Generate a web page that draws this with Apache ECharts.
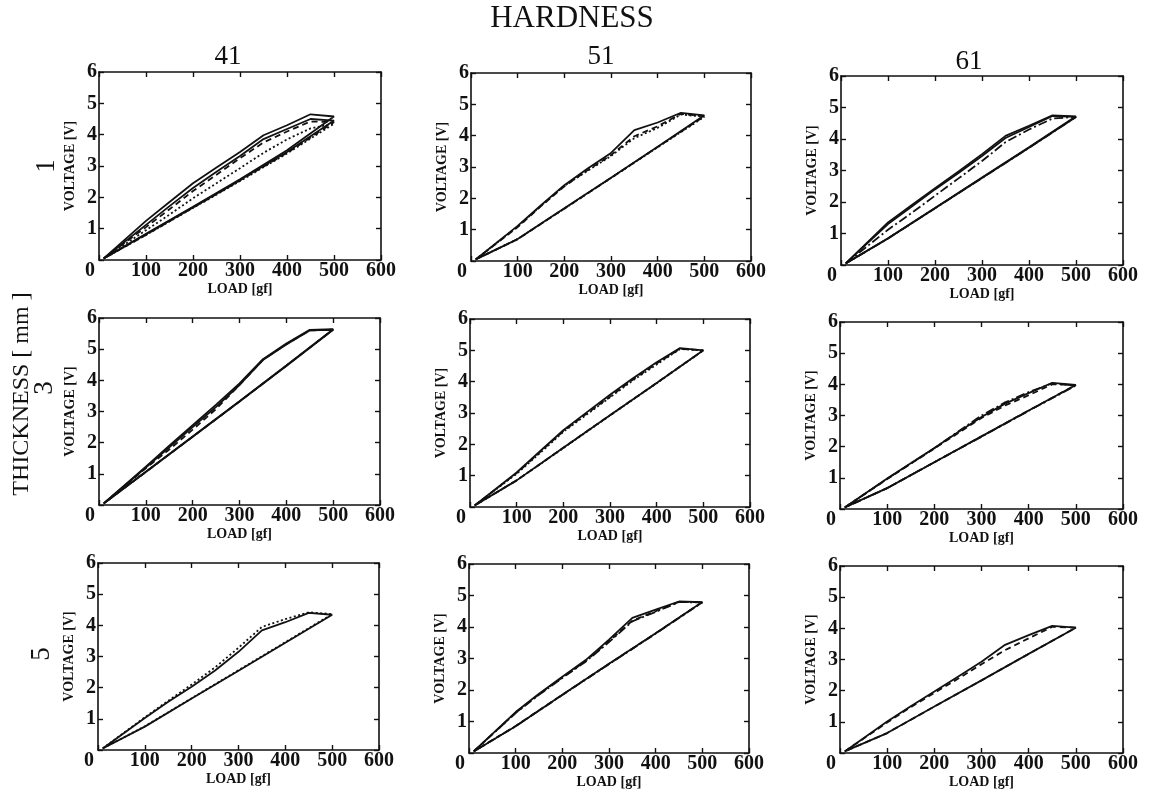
<!DOCTYPE html>
<html><head><meta charset="utf-8">
<script src="https://cdn.jsdelivr.net/npm/echarts@6/dist/echarts.min.js"></script>
<style>html,body{margin:0;padding:0;background:#fff}#c{width:1151px;height:796px}</style>
</head><body><div id="c"></div>
<script>
// ---- data ----
const HARDNESS = ['41', '51', '61'];
const THICKNESS = ['1', '3', '5'];
const X_TICKS = [0, 100, 200, 300, 400, 500, 600];
const Y_TICKS = [0, 1, 2, 3, 4, 5, 6];
// loading path then unloading path (gf)
const LOAD = [10, 100, 150, 200, 250, 300, 350, 400, 450, 500, 400, 300, 200, 100, 10];

// hardness 41, thickness 1
const H41_T1_A = [0.05, 1.25, 1.85, 2.45, 2.95, 3.45, 3.98, 4.30, 4.65, 4.58, 3.50, 2.58, 1.70, 0.84, 0.05];
const H41_T1_B = [0.05, 1.12, 1.72, 2.30, 2.82, 3.32, 3.86, 4.18, 4.50, 4.45, 3.45, 2.55, 1.68, 0.82, 0.05];
const H41_T1_C = [0.05, 1.05, 1.62, 2.20, 2.72, 3.25, 3.75, 4.10, 4.42, 4.40, 3.42, 2.54, 1.67, 0.80, 0.05];
const H41_T1_D = [0.05, 0.95, 1.45, 1.97, 2.45, 2.93, 3.42, 3.85, 4.20, 4.35, 3.40, 2.52, 1.66, 0.80, 0.05];
// hardness 51, thickness 1
const H51_T1_A = [0.05, 1.12, 1.78, 2.42, 2.95, 3.45, 4.18, 4.42, 4.73, 4.65, 3.65, 2.66, 1.68, 0.70, 0.05];
const H51_T1_B = [0.05, 1.08, 1.75, 2.38, 2.90, 3.38, 3.98, 4.30, 4.70, 4.62, 3.64, 2.65, 1.67, 0.70, 0.05];
const H51_T1_C = [0.05, 1.10, 1.76, 2.40, 2.88, 3.35, 3.92, 4.25, 4.68, 4.60, 3.63, 2.65, 1.67, 0.70, 0.05];
// hardness 61, thickness 1
const H61_T1_A = [0.05, 1.35, 1.90, 2.44, 2.97, 3.52, 4.10, 4.42, 4.75, 4.72, 3.74, 2.78, 1.81, 0.85, 0.05];
const H61_T1_B = [0.05, 1.30, 1.85, 2.40, 2.92, 3.46, 4.03, 4.38, 4.73, 4.70, 3.72, 2.76, 1.80, 0.84, 0.05];
const H61_T1_C = [0.05, 1.12, 1.65, 2.20, 2.75, 3.30, 3.90, 4.30, 4.65, 4.70, 3.72, 2.76, 1.80, 0.84, 0.05];
// hardness 41, thickness 3
const H41_T3_A = [0.05, 1.23, 1.90, 2.56, 3.22, 3.90, 4.68, 5.18, 5.62, 5.64, 4.48, 3.33, 2.20, 1.07, 0.05];
const H41_T3_B = [0.05, 1.20, 1.85, 2.50, 3.15, 3.85, 4.65, 5.15, 5.60, 5.62, 4.46, 3.32, 2.19, 1.06, 0.05];
const H41_T3_C = [0.05, 1.18, 1.78, 2.42, 3.08, 3.85, 4.66, 5.16, 5.60, 5.63, 4.47, 3.32, 2.19, 1.06, 0.05];
// hardness 51, thickness 3
const H51_T3_A = [0.05, 1.10, 1.78, 2.45, 3.02, 3.58, 4.12, 4.62, 5.07, 5.00, 3.96, 2.93, 1.89, 0.85, 0.05];
const H51_T3_B = [0.05, 1.08, 1.75, 2.42, 2.98, 3.52, 4.08, 4.58, 5.05, 5.00, 3.96, 2.93, 1.89, 0.85, 0.05];
const H51_T3_C = [0.05, 1.06, 1.72, 2.40, 2.95, 3.50, 4.05, 4.55, 5.04, 5.00, 3.95, 2.92, 1.88, 0.85, 0.05];
// hardness 61, thickness 3
const H61_T3_A = [0.05, 0.98, 1.47, 1.96, 2.46, 2.95, 3.38, 3.72, 4.05, 3.98, 3.16, 2.33, 1.50, 0.67, 0.05];
const H61_T3_B = [0.05, 0.96, 1.45, 1.94, 2.43, 2.92, 3.32, 3.65, 4.00, 3.98, 3.16, 2.33, 1.50, 0.67, 0.05];
const H61_T3_C = [0.05, 0.97, 1.46, 1.95, 2.48, 3.00, 3.42, 3.75, 4.03, 3.96, 3.15, 2.32, 1.50, 0.67, 0.05];
// hardness 41, thickness 5
const H41_T5_A = [0.05, 1.03, 1.55, 2.03, 2.55, 3.15, 3.84, 4.10, 4.40, 4.34, 3.44, 2.54, 1.65, 0.75, 0.05];
const H41_T5_B = [0.05, 1.05, 1.58, 2.10, 2.65, 3.28, 3.95, 4.20, 4.42, 4.36, 3.46, 2.56, 1.66, 0.76, 0.05];
// hardness 51, thickness 5
const H51_T5_A = [0.05, 1.30, 1.88, 2.42, 2.95, 3.60, 4.29, 4.55, 4.81, 4.79, 3.80, 2.83, 1.85, 0.85, 0.05];
const H51_T5_B = [0.05, 1.28, 1.86, 2.40, 2.92, 3.55, 4.20, 4.50, 4.80, 4.79, 3.80, 2.83, 1.85, 0.86, 0.05];
const H51_T5_C = [0.05, 1.27, 1.85, 2.38, 2.90, 3.52, 4.18, 4.48, 4.79, 4.78, 3.79, 2.82, 1.84, 0.85, 0.05];
// hardness 61, thickness 5
const H61_T5_A = [0.05, 1.01, 1.50, 1.97, 2.45, 2.93, 3.47, 3.78, 4.08, 4.02, 3.18, 2.33, 1.49, 0.64, 0.05];
const H61_T5_B = [0.05, 0.98, 1.47, 1.93, 2.38, 2.85, 3.30, 3.68, 4.05, 4.02, 3.18, 2.33, 1.49, 0.64, 0.05];

// ---- layout / styles ----
const SERIF = "'Liberation Serif','DejaVu Serif','Times New Roman',serif";
const INK = '#111';
const DASH = [6, 4], DOT = [2, 2.5], DASHDOT = [9, 3, 2, 3];

const panels = [
  {g: {left: 99, top: 72, width: 282, height: 188}, s: [[H41_T1_A, 'solid'], [H41_T1_B, 'solid'], [H41_T1_C, DASH], [H41_T1_D, DOT]]},
  {g: {left: 471, top: 73, width: 280, height: 188}, s: [[H51_T1_A, 'solid'], [H51_T1_B, DASH], [H51_T1_C, DOT]]},
  {g: {left: 841, top: 76, width: 282, height: 189}, s: [[H61_T1_A, 'solid'], [H61_T1_B, 'solid'], [H61_T1_C, DASHDOT]]},
  {g: {left: 99, top: 318, width: 281, height: 187}, s: [[H41_T3_A, 'solid'], [H41_T3_B, 'solid'], [H41_T3_C, DASH]]},
  {g: {left: 470, top: 319, width: 280, height: 188}, s: [[H51_T3_A, 'solid'], [H51_T3_B, DASH], [H51_T3_C, DOT]]},
  {g: {left: 840, top: 322, width: 283, height: 187}, s: [[H61_T3_A, 'solid'], [H61_T3_B, DASH], [H61_T3_C, DASHDOT]]},
  {g: {left: 98, top: 563, width: 281, height: 187}, s: [[H41_T5_A, 'solid'], [H41_T5_B, DOT]]},
  {g: {left: 469, top: 564, width: 280, height: 189}, s: [[H51_T5_A, 'solid'], [H51_T5_B, DASH], [H51_T5_C, DASHDOT]]},
  {g: {left: 840, top: 566, width: 283, height: 187}, s: [[H61_T5_A, 'solid'], [H61_T5_B, DASH]]}
];

const grid = [], xAxis = [], yAxis = [], series = [];
const lineAx = {show: true, onZero: false, lineStyle: {color: INK, width: 1.6}};
const tickAx = {show: true, inside: true, length: 5, lineStyle: {color: INK, width: 1.4}};
const tickFont = {fontFamily: SERIF, fontSize: 20, fontWeight: 'bold', color: INK};
panels.forEach((p, i) => {
  grid.push(Object.assign({containLabel: false}, p.g));
  xAxis.push({
    gridIndex: i, type: 'value', position: 'bottom',
    min: X_TICKS[0], max: X_TICKS[X_TICKS.length - 1], interval: X_TICKS[1] - X_TICKS[0],
    axisLine: lineAx, axisTick: tickAx, splitLine: {show: false},
    axisLabel: Object.assign({}, tickFont, {
      margin: 1,
      formatter: v => v === 0 ? '{z|0}' : String(v),
      rich: {z: Object.assign({}, tickFont, {padding: [0, 18, 0, 0]})}
    }),
    name: 'LOAD [gf]', nameLocation: 'middle', nameGap: 15,
    nameTextStyle: {fontFamily: SERIF, fontWeight: 'bold', fontSize: 14, color: INK}
  });
  xAxis.push({
    gridIndex: i, type: 'value', position: 'top',
    min: X_TICKS[0], max: X_TICKS[X_TICKS.length - 1], interval: X_TICKS[1] - X_TICKS[0],
    axisLine: lineAx, axisTick: tickAx, splitLine: {show: false}, axisLabel: {show: false}
  });
  yAxis.push({
    gridIndex: i, type: 'value', position: 'left',
    min: Y_TICKS[0], max: Y_TICKS[Y_TICKS.length - 1], interval: Y_TICKS[1] - Y_TICKS[0],
    axisLine: lineAx, axisTick: tickAx, splitLine: {show: false},
    axisLabel: Object.assign({}, tickFont, {margin: 2, formatter: v => v === 0 ? '' : String(v)}),
    name: 'VOLTAGE [V]', nameLocation: 'middle', nameGap: 22, nameRotate: 90,
    nameTextStyle: {fontFamily: SERIF, fontWeight: 'bold', fontSize: 14, color: INK}
  });
  yAxis.push({
    gridIndex: i, type: 'value', position: 'right',
    min: Y_TICKS[0], max: Y_TICKS[Y_TICKS.length - 1], interval: Y_TICKS[1] - Y_TICKS[0],
    axisLine: lineAx, axisTick: tickAx, splitLine: {show: false}, axisLabel: {show: false}
  });
  p.s.forEach(([vals, type]) => {
    series.push({
      type: 'line', xAxisIndex: 2 * i, yAxisIndex: 2 * i,
      data: LOAD.map((x, k) => [x, vals[k]]),
      showSymbol: false, symbol: 'none', silent: true,
      lineStyle: {color: INK, width: 1.8, type: type}
    });
  });
});

const txt = (text, x, y, size, rot) => ({
  type: 'text', x: x, y: y, rotation: rot || 0, silent: true,
  style: {text: text, fontFamily: SERIF, fontSize: size, fill: INK, textAlign: 'center', textVerticalAlign: 'middle'}
});
const graphic = [
  txt('HARDNESS', 572, 19, 31),
  txt(HARDNESS[0], 228, 57, 27),
  txt(HARDNESS[1], 601, 57, 27),
  txt(HARDNESS[2], 969, 62, 27),
  txt('THICKNESS [ mm ]', 22, 394, 24, Math.PI / 2),
  txt(THICKNESS[0], 47, 166, 27, Math.PI / 2),
  txt(THICKNESS[1], 45, 388, 27, Math.PI / 2),
  txt(THICKNESS[2], 42, 654, 27, Math.PI / 2)
];

const chart = echarts.init(document.getElementById('c'), null, {renderer: 'canvas'});
chart.setOption({animation: false, backgroundColor: '#fff', grid, xAxis, yAxis, series, graphic});
</script></body></html>
